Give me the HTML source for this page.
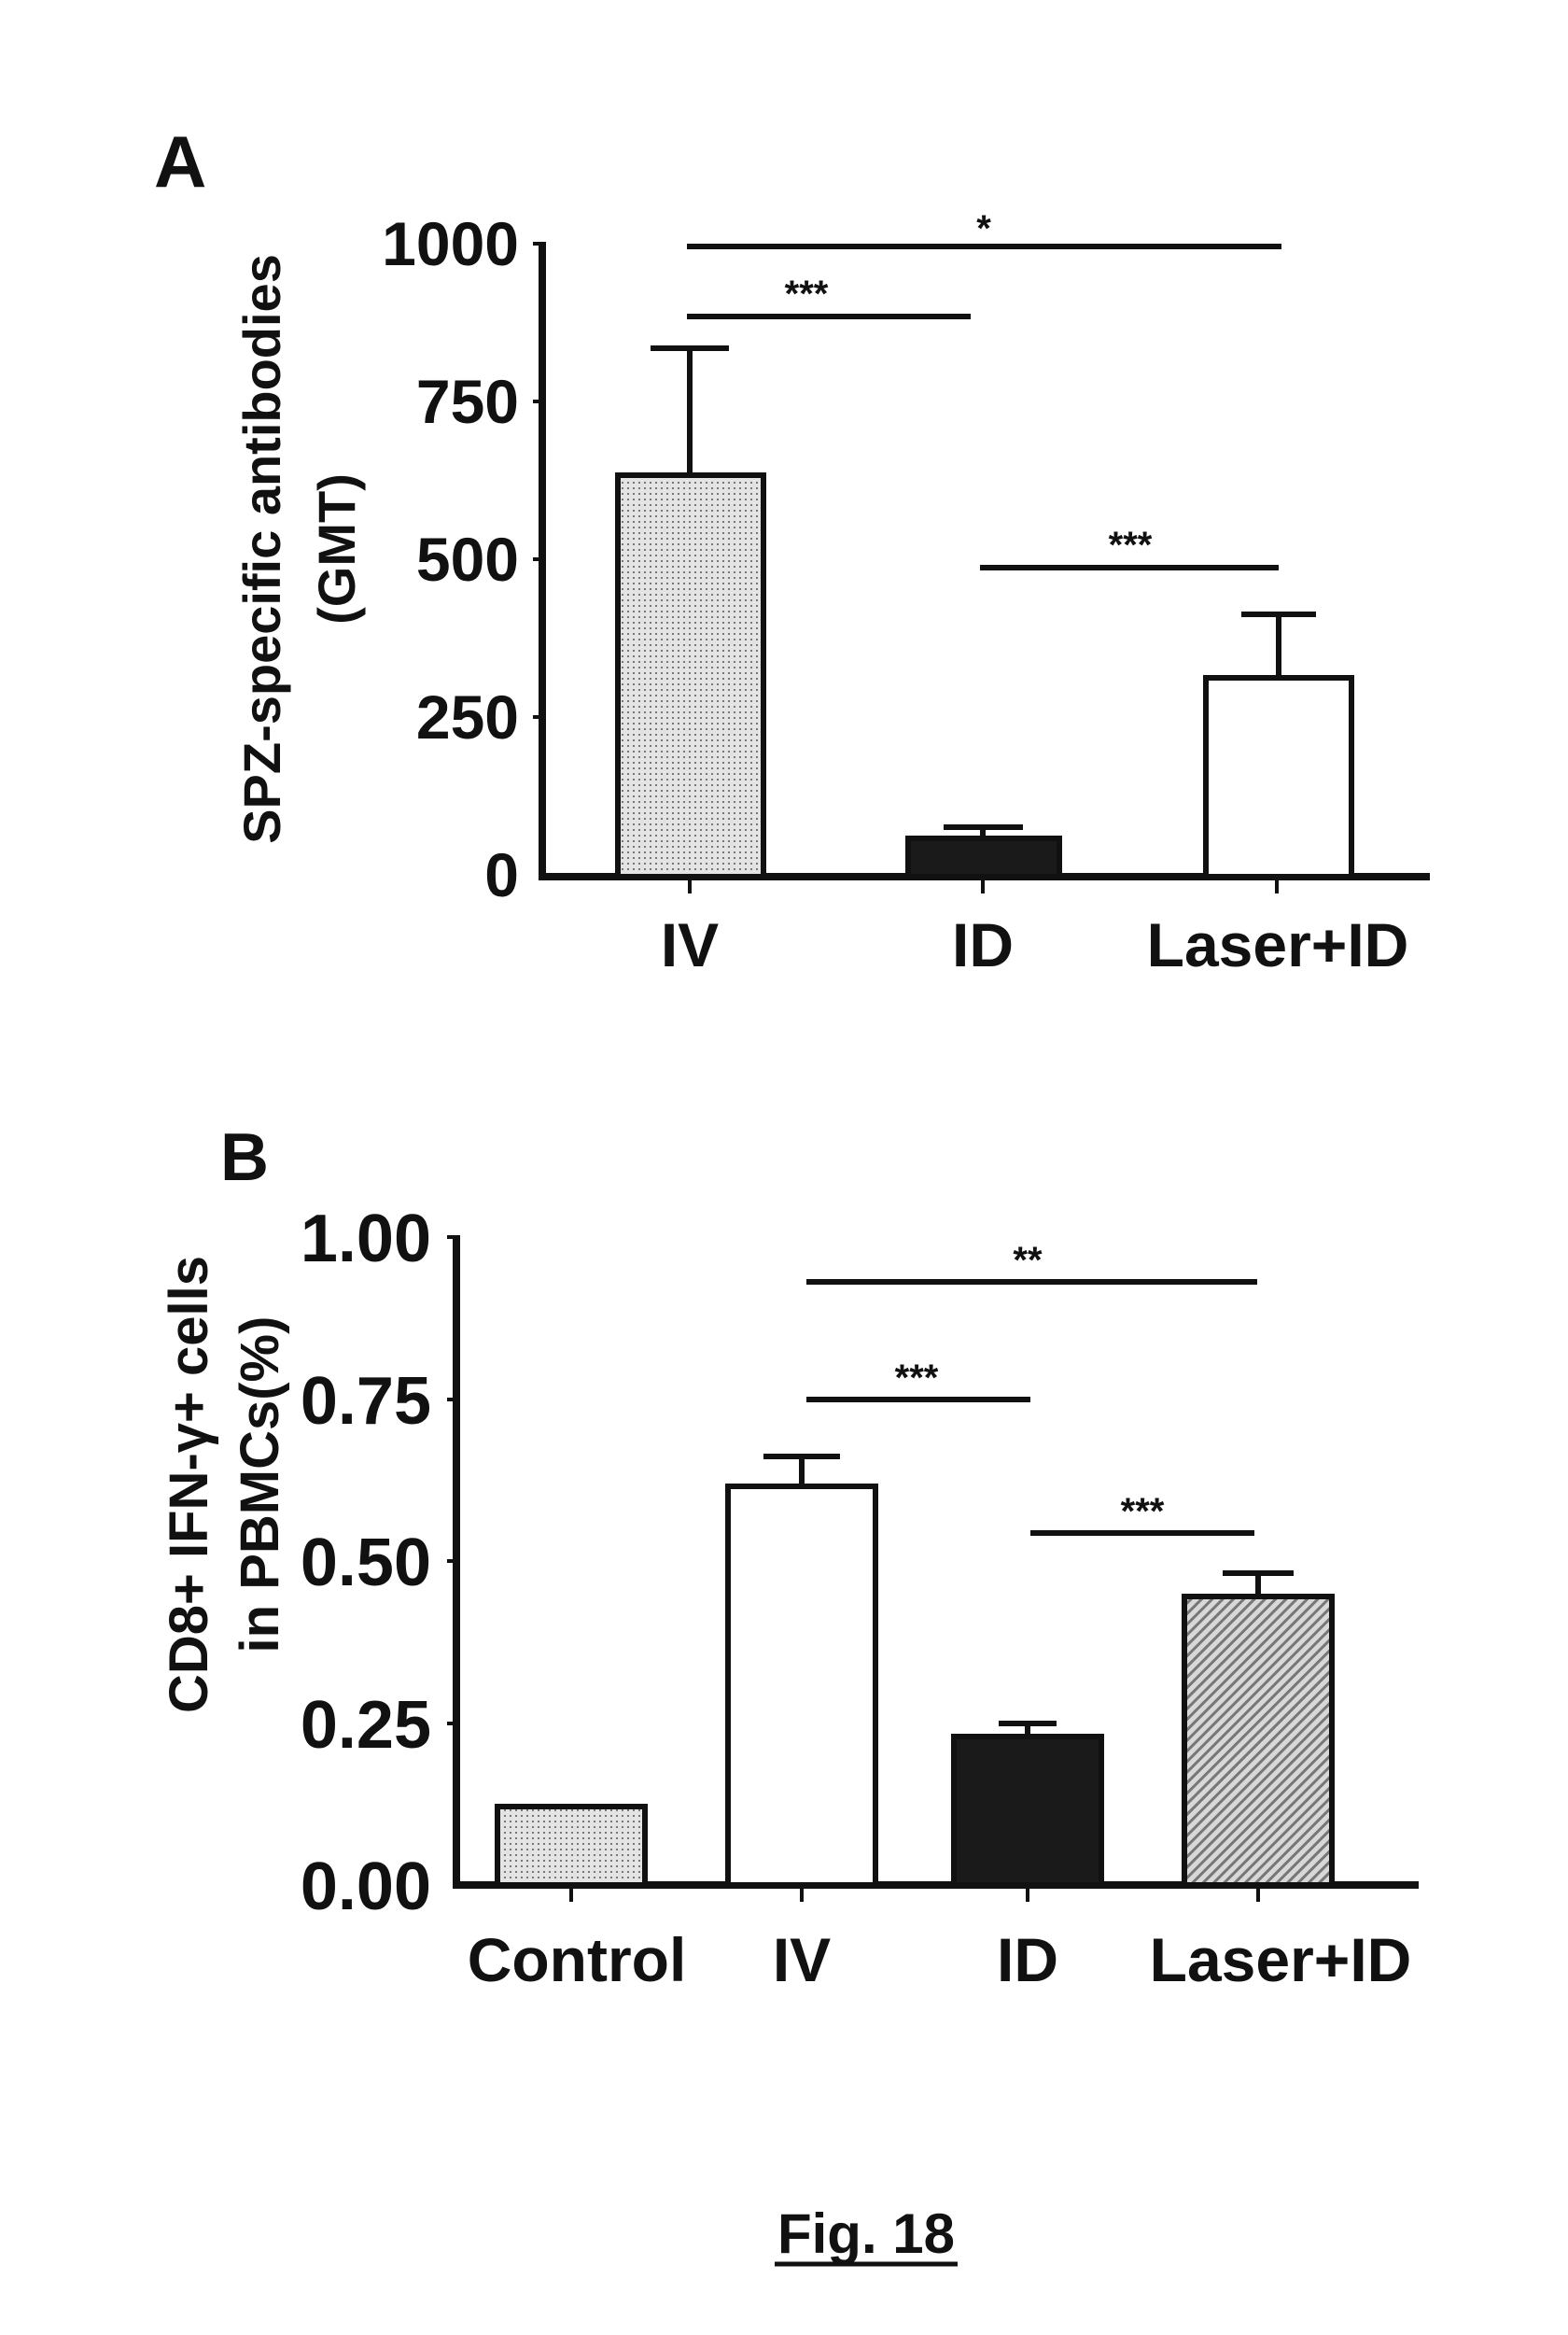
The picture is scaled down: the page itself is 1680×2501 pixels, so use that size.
<!DOCTYPE html>
<html><head><meta charset="utf-8"><style>
html,body{margin:0;padding:0;background:#fff;}
svg{display:block;}
text{font-family:"Liberation Sans",Arial,sans-serif;font-weight:bold;fill:#111;}
</style></head><body>
<svg width="1680" height="2501" viewBox="0 0 1680 2501" xmlns="http://www.w3.org/2000/svg">
<defs>
<pattern id="dots" width="6" height="6" patternUnits="userSpaceOnUse"><rect width="6" height="6" fill="#e4e4e4"/><rect width="2" height="2" fill="#777"/></pattern>
<pattern id="hatch" width="8" height="8" patternUnits="userSpaceOnUse" patternTransform="rotate(45)"><rect width="8" height="8" fill="#d8d8d8"/><rect width="3" height="8" fill="#777"/></pattern>
</defs>
<g stroke="#111" fill="none">
<!-- Panel A -->
<text x="165" y="200" font-size="78" stroke="none">A</text>
<line x1="581" y1="259" x2="581" y2="941" stroke-width="8"/>
<line x1="577" y1="939" x2="1532" y2="939" stroke-width="8"/>
<g stroke-width="4">
<line x1="571" y1="261" x2="581" y2="261"/><line x1="571" y1="430" x2="581" y2="430"/><line x1="571" y1="599" x2="581" y2="599"/><line x1="571" y1="768" x2="581" y2="768"/>
<line x1="739" y1="939" x2="739" y2="957"/><line x1="1053" y1="939" x2="1053" y2="957"/><line x1="1368" y1="939" x2="1368" y2="957"/>
</g>
<rect x="662" y="509" width="156" height="430" fill="url(#dots)" stroke-width="6"/>
<line x1="739" y1="509" x2="739" y2="373" stroke-width="6"/><line x1="697" y1="373" x2="781" y2="373" stroke-width="6"/>
<rect x="973" y="898" width="162" height="41" fill="#1a1a1a" stroke-width="6"/>
<line x1="1053" y1="898" x2="1053" y2="886" stroke-width="6"/><line x1="1011" y1="886" x2="1096" y2="886" stroke-width="6"/>
<rect x="1292" y="726" width="156" height="213" fill="#fff" stroke-width="6"/>
<line x1="1370" y1="726" x2="1370" y2="658" stroke-width="6"/><line x1="1330" y1="658" x2="1410" y2="658" stroke-width="6"/>
<g stroke-width="6">
<line x1="736" y1="264" x2="1373" y2="264"/>
<line x1="736" y1="339" x2="1040" y2="339"/>
<line x1="1050" y1="608" x2="1370" y2="608"/>
</g>
<g stroke="none" font-size="40" text-anchor="middle">
<text x="1054" y="258">*</text><text x="864" y="328">***</text><text x="1211" y="597">***</text>
</g>
<g stroke="none" font-size="66" text-anchor="end">
<text x="556" y="284">1000</text><text x="556" y="453">750</text><text x="556" y="622">500</text><text x="556" y="791">250</text><text x="556" y="960">0</text>
</g>
<g stroke="none" font-size="66" text-anchor="middle">
<text x="739" y="1035">IV</text><text x="1053" y="1035">ID</text><text x="1369" y="1035">Laser+ID</text>
</g>
<text stroke="none" font-size="56" text-anchor="middle" transform="translate(300,588) rotate(-90)">SPZ-specific antibodies</text>
<text stroke="none" font-size="56" text-anchor="middle" transform="translate(380,588) rotate(-90)">(GMT)</text>

<!-- Panel B -->
<text x="236" y="1264" font-size="72" stroke="none">B</text>
<line x1="489" y1="1323" x2="489" y2="2023" stroke-width="8"/>
<line x1="485" y1="2019" x2="1520" y2="2019" stroke-width="8"/>
<g stroke-width="4">
<line x1="479" y1="1325" x2="489" y2="1325"/><line x1="479" y1="1499" x2="489" y2="1499"/><line x1="479" y1="1672" x2="489" y2="1672"/><line x1="479" y1="1846" x2="489" y2="1846"/>
<line x1="612" y1="2019" x2="612" y2="2037"/><line x1="859" y1="2019" x2="859" y2="2037"/><line x1="1101" y1="2019" x2="1101" y2="2037"/><line x1="1348" y1="2019" x2="1348" y2="2037"/>
</g>
<rect x="533" y="1935" width="158" height="84" fill="url(#dots)" stroke-width="6"/>
<rect x="780" y="1592" width="158" height="427" fill="#fff" stroke-width="6"/>
<line x1="859" y1="1592" x2="859" y2="1560" stroke-width="6"/><line x1="818" y1="1560" x2="900" y2="1560" stroke-width="6"/>
<rect x="1022" y="1860" width="158" height="159" fill="#1a1a1a" stroke-width="6"/>
<line x1="1101" y1="1860" x2="1101" y2="1846" stroke-width="6"/><line x1="1070" y1="1846" x2="1132" y2="1846" stroke-width="6"/>
<rect x="1269" y="1710" width="158" height="309" fill="url(#hatch)" stroke-width="6"/>
<line x1="1348" y1="1710" x2="1348" y2="1685" stroke-width="6"/><line x1="1310" y1="1685" x2="1386" y2="1685" stroke-width="6"/>
<g stroke-width="6">
<line x1="864" y1="1373" x2="1347" y2="1373"/>
<line x1="864" y1="1499" x2="1104" y2="1499"/>
<line x1="1104" y1="1642" x2="1344" y2="1642"/>
</g>
<g stroke="none" font-size="40" text-anchor="middle">
<text x="1101" y="1363">**</text><text x="982" y="1489">***</text><text x="1224" y="1632">***</text>
</g>
<g stroke="none" font-size="72" text-anchor="end">
<text x="462" y="1351">1.00</text><text x="462" y="1525">0.75</text><text x="462" y="1698">0.50</text><text x="462" y="1872">0.25</text><text x="462" y="2045">0.00</text>
</g>
<g stroke="none" font-size="66" text-anchor="middle">
<text x="618" y="2122">Control</text><text x="859" y="2122">IV</text><text x="1101" y="2122">ID</text><text x="1372" y="2122">Laser+ID</text>
</g>
<text stroke="none" font-size="58" text-anchor="middle" transform="translate(222,1590) rotate(-90)">CD8+ IFN-γ+ cells</text>
<text stroke="none" font-size="58" text-anchor="middle" transform="translate(298,1590) rotate(-90)">in PBMCs(%)</text>

<text x="928" y="2413" stroke="none" font-size="60" text-anchor="middle">Fig. 18</text>
<line x1="830" y1="2425" x2="1026" y2="2425" stroke-width="5"/>
</g>
</svg>
</body></html>
